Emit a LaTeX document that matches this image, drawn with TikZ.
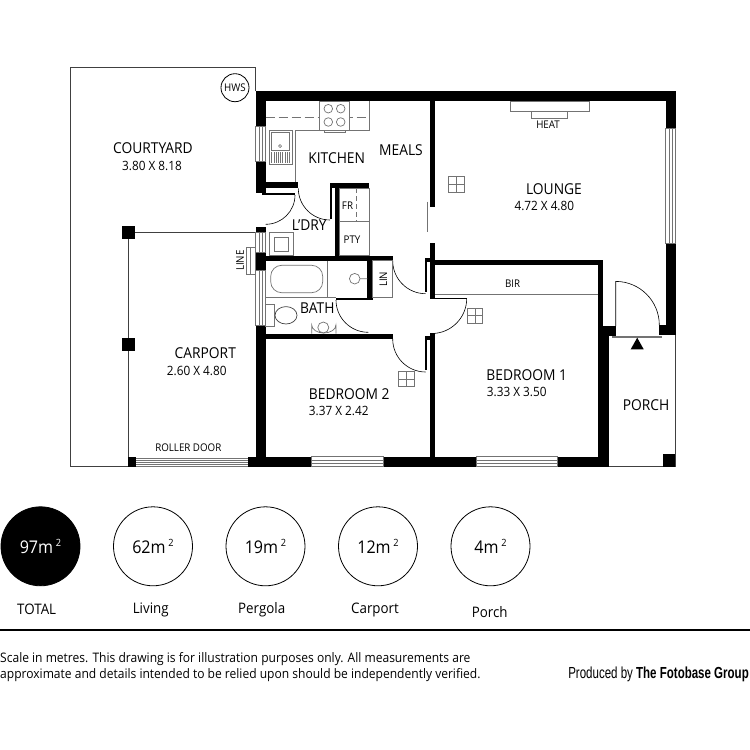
\documentclass[tikz,border=0pt]{standalone}
\usepackage{fontspec}
\setmainfont[FakeStretch=0.92]{Open Sans}
\newfontfamily\narrowbold[FakeStretch=0.72]{Liberation Sans}
\newfontfamily\narrowreg[FakeStretch=0.72]{Liberation Sans}
\newcommand{\sqm}[1]{#1m\raisebox{6.5pt}{\fontsize{10}{10}\selectfont\;2}}
\tikzset{
  wall/.style={fill=black,draw=none},
  fitting/.style={draw=black!55,line width=0.7pt},
  swing/.style={draw=black,line width=0.6pt},
  outline/.style={draw=black!75,line width=0.9pt},
  roomname/.style={font=\fontsize{15}{15}\selectfont,inner sep=0pt},
  roomsize/.style={font=\fontsize{12.8}{13}\selectfont,inner sep=0pt},
  smalltag/.style={font=\fontsize{10.6}{11}\selectfont,inner sep=0pt},
  area/.style={circle,draw=black,line width=0.8pt,minimum size=79pt,inner sep=0pt,font=\fontsize{17.5}{18}\selectfont},
  arealabel/.style={font=\fontsize{14.5}{15}\selectfont,inner sep=0pt},
  legal/.style={font=\fontsize{13.1}{14}\selectfont,inner sep=0pt,anchor=west},
}
\begin{document}
\begin{tikzpicture}[x=1pt,y=-1pt]
   \useasboundingbox (0,0) rectangle (750,750);

   % open areas
   \draw[outline] (255.7,91) -- (255.7,67) -- (70,67) -- (70,466.2) -- (130,466.2);
   \draw[outline] (609,466.2) -- (675.4,466.2) -- (675.4,335);
   \draw[outline] (135,232.7) -- (255.7,232.7);
   \draw[outline] (128.7,239) -- (128.7,458);
   \node (hws) [circle,draw=black,line width=0.8pt,minimum size=28pt,inner sep=0pt,smalltag] at (235,87.7) {HWS};
   \foreach \py in {232.3,344.6}
     \fill[wall] (122,\py-6.6) rectangle (135.3,\py+6.6);

   % walls
   \fill[wall] (255.7,90.5) rectangle (675.7,101);
   \fill[wall] (255.7,90.5) rectangle (265.7,126.7);
   \fill[wall] (255.7,161.7) rectangle (265.7,193);
   \fill[wall] (255.7,182.3) rectangle (298.3,188.3);
   \fill[wall] (262,193) rectangle (295,195);
   \fill[wall] (255.7,227.3) rectangle (265.7,232.3);
   \fill[wall] (255.7,252) rectangle (265.7,270);
   \fill[wall] (255.7,325.7) rectangle (265.7,466.7);
   \fill[wall] (330,183) rectangle (369.3,188.3);
   \fill[wall] (330,183) rectangle (332,219);
   \fill[wall] (335,183) rectangle (339.5,260);
   \fill[wall] (260,255.7) rectangle (392.7,260.7);
   \fill[wall] (367.3,255.7) rectangle (372.7,300);
   \fill[wall] (336,298.3) rectangle (372.7,300.2);
   \fill[wall] (265.7,333.6) rectangle (392.7,339);
   \fill[wall] (430,101) rectangle (435,207.3);
   \fill[wall] (430,243.3) rectangle (435,298.3);
   \fill[wall] (425.2,258) rectangle (430,262);
   \fill[wall] (425.2,258) rectangle (426.6,292.3);
   \fill[wall] (430,297.6) rectangle (466.7,299.4);
   \fill[wall] (429.5,333) rectangle (435,460);
   \fill[wall] (425.2,336) rectangle (430,340);
   \fill[wall] (425.2,336) rectangle (426.6,370);
   \fill[wall] (435,260) rectangle (603.3,265.3);
   \fill[wall] (598.3,260) rectangle (603.3,326);
   \fill[wall] (598.3,326) rectangle (609,466.7);
   \fill[wall] (598.3,326) rectangle (615.7,336);
   \fill[wall] (659.3,325) rectangle (675.7,335);
   \fill[wall] (665.7,90.5) rectangle (675.7,128.3);
   \fill[wall] (665.7,243.3) rectangle (675.7,335);
   \fill[wall] (128.3,456.7) rectangle (136,466.7);
   \fill[wall] (248.3,456.7) rectangle (311.7,466.7);
   \fill[wall] (383.3,456.7) rectangle (476,466.7);
   \fill[wall] (557.7,456.7) rectangle (609,466.7);
   \fill[wall] (662.7,454.3) rectangle (675.4,466.7);

   % windows
   \foreach \ya/\yb in {126.7/161.7,232.3/252,270/325.7}
     \draw[fitting] (255.7,\ya) rectangle (265.7,\yb) (259.2,\ya) -- (259.2,\yb) (262.2,\ya) -- (262.2,\yb);
   \draw[fitting] (665.7,128.3) rectangle (675.7,243.3) (669,128.3) -- (669,243.3) (672.4,128.3) -- (672.4,243.3);
   \foreach \xa/\xb in {311.7/383.3,476/557.7}
     \draw[fitting] (\xa,456.7) rectangle (\xb,466.7) (\xa,460) -- (\xb,460) (\xa,463.4) -- (\xb,463.4);
   \foreach \yy in {458,460.1,462.2,464.3,466.2}
     \draw[fitting] (136,\yy) -- (248.3,\yy);

   % doors
   \draw[swing] (295,195) arc[start angle=0,end angle=90,radius=29.3];
   \draw[swing] (298.3,188.3) arc[start angle=180,end angle=90,radius=31.7];
   \draw[swing] (336,300) arc[start angle=180,end angle=90,radius=32.3];
   \draw[swing] (392.7,260.7) arc[start angle=180,end angle=90,radius=33];
   \draw[swing] (392.7,339) arc[start angle=180,end angle=90,radius=33];
   \draw[swing] (466.7,298.5) arc[start angle=0,end angle=90,radius=35];
   \draw[swing] (659.3,325) arc[start angle=0,end angle=-90,radius=43.6] -- (615.7,326);
   \draw[fitting] (427,201.7) -- (427,231.7);
   \draw[fitting] (612.7,336) rectangle (661.7,337.6);
   \fill[wall] (637.2,337.7) -- (630.7,349.3) -- (643.7,349.3) -- cycle;

   % kitchen
   \draw[fitting] (369.3,101) -- (369.3,130) -- (295,130) -- (295,182.3);
   \draw[fitting,dashed,dash pattern=on 9pt off 4pt] (265.7,117.7) -- (369.3,117.7);
   \draw[fitting,fill=white] (319.7,101) rectangle (349.7,130);
   \draw[fitting] (324.3,130) rectangle (345.7,132);
   \foreach \cx in {328.3,340.7}
     \foreach \cy in {108.7,122}
       \draw[fitting] (\cx,\cy) circle[radius=4.3];
   \draw[fitting] (269,130.7) rectangle (292.3,164.3);
   \draw[fitting] (271.7,132.7) rectangle (289.3,150);
   \draw[fitting] (280,146) circle[radius=1.5];
   \foreach \dx in {271.7,273.9,...,289.4}
     \draw[black!55,line width=0.5pt] (\dx,152) -- (\dx,162.7);
   \draw[fitting] (339.5,188.3) rectangle (369.3,255.7);
   \draw[fitting] (339.5,221.7) -- (369.3,221.7);
   \draw[fitting,dashed,dash pattern=on 5pt off 3pt] (356.7,188.3) -- (356.7,221.7);

   % laundry
   \draw[fitting] (269.3,232.3) rectangle (293.3,255.7);
   \draw[fitting] (274.3,237.3) rectangle (288.3,251);
   \draw[fitting] (246.7,247.7) rectangle (255.7,274.3);
   \draw[fitting] (250.5,247.7) -- (250.5,274.3);

   % bath
   \draw[fitting] (265.7,297.3) -- (336,297.3);
   \draw[fitting] (327.3,260.7) -- (327.3,297.3);
   \draw[fitting,rounded corners=11pt] (270.7,265.3) rectangle (322.7,292.7);
   \draw[fitting] (354.7,278.7) circle[radius=5.3] (360,278.7) -- (367.3,278.7);
   \draw[fitting] (372.7,260.7) rectangle (392.7,297.3);
   \draw[fitting] (265.7,304.3) rectangle (274.3,326.7);
   \draw[fitting,draw=black!75] (286,315.3) ellipse[x radius=11,y radius=8.7];
   \draw[fitting] (311.7,333.6) -- (311.7,325) arc[start angle=180,end angle=0,x radius=12.1,y radius=8] -- (336,333.6);
   \draw[fitting] (323.3,327.5) circle[radius=5.5];

   % fireplace and robe
   \draw[fitting] (510.3,101) rectangle (589,111.7);
   \draw[fitting] (531.7,111.7) rectangle (567.3,118.7);
   \draw[fitting] (435,294) -- (598.3,294);

   % skylights
   \foreach \sx/\sy in {456.3/184.3,475/315.7,406.3/379} {
     \draw[fitting] (\sx-7.7,\sy-7.7) rectangle (\sx+7.7,\sy+7.7);
     \draw[fitting] (\sx-7.7,\sy) -- (\sx+7.7,\sy) (\sx,\sy-7.7) -- (\sx,\sy+7.7);
   }

   % room names
   \node (courtyard) [roomname] at (153,148) {COURTYARD};
   \node (courtyardsize) [roomsize] at (152,166) {3.80 X 8.18};
   \node (kitchen) [roomname] at (336.7,158.3) {KITCHEN};
   \node (meals) [roomname] at (401,150.3) {MEALS};
   \node (lounge) [roomname] at (554,189) {LOUNGE};
   \node (loungesize) [roomsize] at (544.3,205.7) {4.72 X 4.80};
   \node (laundry) [roomname] at (309.3,225) {L'DRY};
   \node (bath) [roomname] at (317.3,308) {BATH};
   \node (carport) [roomname] at (205.3,353.3) {CARPORT};
   \node (carportsize) [roomsize] at (196.7,370.7) {2.60 X 4.80};
   \node (bedtwo) [roomname] at (349.3,394) {BEDROOM 2};
   \node (bedtwosize) [roomsize] at (338.7,411.3) {3.37 X 2.42};
   \node (bedone) [roomname] at (526.7,375.3) {BEDROOM 1};
   \node (bedonesize) [roomsize] at (516.7,392.3) {3.33 X 3.50};
   \node (porch) [roomname] at (646,405) {PORCH};
   \node (fridge) [smalltag] at (347.5,205.5) {FR};
   \node (pantry) [smalltag] at (352,239.5) {PTY};
   \node (line) [smalltag,rotate=90] at (240,260.7) {LINE};
   \node (linen) [smalltag,rotate=90] at (383.3,279.3) {LIN};
   \node (heat) [smalltag] at (548,125) {HEAT};
   \node (robe) [smalltag] at (512.7,283.3) {BIR};
   \node (roller) [smalltag] at (188.3,447.7) {ROLLER DOOR};

   % areas
   \begin{scope}[node distance=112.5pt]
     \node (total) [area,fill=black,text=white] at (40.5,546.3) {\sqm{97}};
     \node (living) [area,right of=total] {\sqm{62}};
     \node (pergola) [area,right of=living] {\sqm{19}};
     \node (carpt) [area,right of=pergola] {\sqm{12}};
     \node (prch) [area,right of=carpt] {\sqm{4}};
   \end{scope}
   \node (totallabel) [arealabel] at (36.7,609.3) {TOTAL};
   \node (livinglabel) [arealabel] at (150.7,610) {Living};
   \node (pergolalabel) [arealabel] at (261.7,610) {Pergola};
   \node (carportlabel) [arealabel] at (375,610) {Carport};
   \node (porchlabel) [arealabel] at (489.7,611.7) {Porch};

   \coordinate (ruleleft) at (0,630);
   \coordinate (ruleright) at (750,630);
   \draw[line width=2pt] (ruleleft) -- (ruleright);
   \node (legalone) [legal] at (0,659) {Scale in metres. This drawing is for illustration purposes only. All measurements are};
   \node (legaltwo) [legal] at (0,675.5) {approximate and details intended to be relied upon should be independently verified.};
   \node (credit) [inner sep=0pt,anchor=east,font=\fontsize{16}{16}\selectfont] at (749,674.5) {\narrowreg Produced by \narrowbold\bfseries The Fotobase Group};
\end{tikzpicture}
\end{document}
